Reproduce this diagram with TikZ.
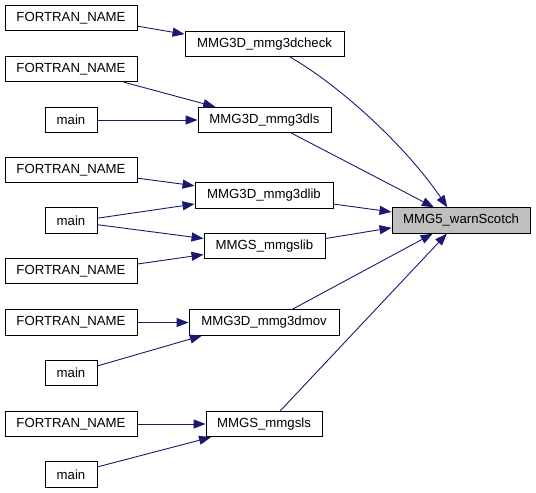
\documentclass[tikz,border=0pt]{standalone}
\usepackage{fontspec}
\setmainfont{Liberation Sans}
\usetikzlibrary{arrows.meta}
\definecolor{edgeblue}{HTML}{191970}
\definecolor{hilite}{HTML}{BFBFBF}
\begin{document}
\begin{tikzpicture}[x=1pt,y=-1pt,
  fn/.style={draw=black,line width=0.9pt,inner sep=0pt,minimum height=25.5pt,
    font=\fontsize{13.2}{15}\selectfont,fill=white},
  callarrow/.style={draw=edgeblue,line width=0.9pt,-{Triangle[length=12pt,width=9pt]}}]
\useasboundingbox (0,0) rectangle (536,493);
% left column
\node[fn,minimum width=132pt] (f1) at (71,18) {FORTRAN\_NAME};
\node[fn,minimum width=132pt] (f2) at (71,69) {FORTRAN\_NAME};
\node[fn,minimum width=52pt]  (m1) at (71,120) {main};
\node[fn,minimum width=132pt] (f3) at (71,170) {FORTRAN\_NAME};
\node[fn,minimum width=52pt]  (m2) at (71,220.5) {main};
\node[fn,minimum width=132pt] (f4) at (71,271) {FORTRAN\_NAME};
\node[fn,minimum width=132pt] (f5) at (71,322.5) {FORTRAN\_NAME};
\node[fn,minimum width=52pt]  (m3) at (71,373) {main};
\node[fn,minimum width=132pt] (f6) at (71,424) {FORTRAN\_NAME};
\node[fn,minimum width=52pt]  (m4) at (71,474.5) {main};
% middle column
\node[fn,minimum width=159pt] (chk) at (264.5,44) {MMG3D\_mmg3dcheck};
\node[fn,minimum width=133pt] (dls) at (264.5,120) {MMG3D\_mmg3dls};
\node[fn,minimum width=138pt] (dlib) at (264,195.5) {MMG3D\_mmg3dlib};
\node[fn,minimum width=121pt] (slib) at (264.5,246) {MMGS\_mmgslib};
\node[fn,minimum width=150pt] (dmov) at (264,322.5) {MMG3D\_mmg3dmov};
\node[fn,minimum width=116pt] (sls) at (264,424) {MMGS\_mmgsls};
% target
\node[fn,minimum width=138pt,fill=hilite] (warn) at (461,220.5) {MMG5\_warnScotch};
% edges
\draw[callarrow] (f1.-7.8) -- (chk.173.5);
\draw[callarrow] (f2.-14.3) -- (dls.165.3);
\draw[callarrow] (m1.east) -- (dls.west);
\draw[callarrow] (chk.-27) .. controls (340,86) and (405,145) .. (warn.136.1);
\draw[callarrow] (dls.-26.1) -- (warn.154.3);
\draw[callarrow] (dlib.-7) -- (warn.173.8);
\draw[callarrow] (f3.-7.8) -- (dlib.172.2);
\draw[callarrow] (m2.5.5) -- (dlib.187);
\draw[callarrow] (m2.-9.8) -- (slib.173.4);
\draw[callarrow] (f4.6.9) -- (slib.188.5);
\draw[callarrow] (slib.7.5) -- (warn.186.2);
\draw[callarrow] (dmov.25.7) -- (warn.205.7);
\draw[callarrow] (sls.39.1) -- (warn.223.9);
\draw[callarrow] (f5.east) -- (dmov.west);
\draw[callarrow] (m3.15) -- (dmov.192.4);
\draw[callarrow] (f6.east) -- (sls.west);
\draw[callarrow] (m4.16.1) -- (sls.194);
\end{tikzpicture}
\end{document}
